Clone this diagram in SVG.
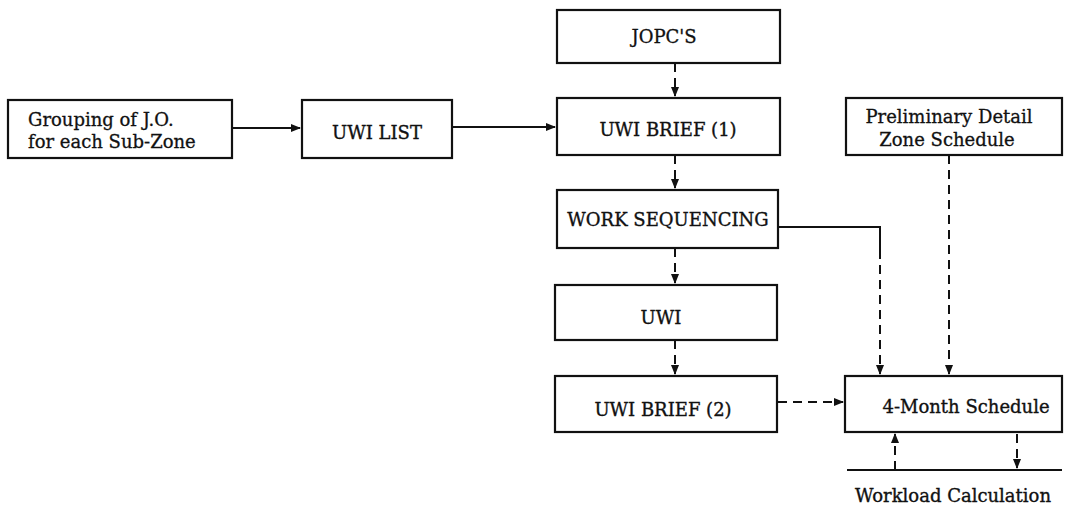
<svg xmlns="http://www.w3.org/2000/svg" width="1088" height="522" viewBox="0 0 1088 522">
<style>
.box{fill:#fff;stroke:#111;stroke-width:2.2}
.t{font-family:"DejaVu Serif","Liberation Serif",serif;font-size:18px;fill:#111;stroke:#111;stroke-width:0.35;text-anchor:middle}
.ts{font-family:"DejaVu Serif","Liberation Serif",serif;font-size:18px;fill:#111;stroke:#111;stroke-width:0.3;text-anchor:middle}
.c{fill:none;stroke:#111;stroke-width:2}
.d{fill:none;stroke:#111;stroke-width:2;stroke-dasharray:9 6}
</style>
<defs>
<marker id="ah" viewBox="0 0 10 10" refX="9" refY="5" markerWidth="5" markerHeight="5" orient="auto" markerUnits="strokeWidth">
<path d="M0,1 L10,5 L0,9 z" fill="#111"/>
</marker>
</defs>
<rect width="1088" height="522" fill="#fff"/>
<g id="connectors">
<path class="c" d="M232,128 L300,128" marker-end="url(#ah)"/>
<path class="c" d="M452,127 L555,127" marker-end="url(#ah)"/>
<path class="d" d="M675,63 L675,96" marker-end="url(#ah)"/>
<path class="d" d="M675,155 L675,188" marker-end="url(#ah)"/>
<path class="d" d="M675,248 L675,283" marker-end="url(#ah)"/>
<path class="d" d="M675,340 L675,374" marker-end="url(#ah)"/>
<path class="d" d="M778,402 L843,402" marker-end="url(#ah)"/>
<path class="c" d="M778,227 L880,227 L880,250"/>
<path class="d" d="M880,250 L880,374" marker-end="url(#ah)"/>
<path class="d" d="M949,155 L949,374" marker-end="url(#ah)"/>
<path class="d" d="M895,470 L895,434" marker-end="url(#ah)"/>
<path class="d" d="M1017,434 L1017,468" marker-end="url(#ah)"/>
<path class="c" d="M847,470 L1062,470"/>
</g>
<g id="grouping">
<rect class="box" x="8" y="100" width="224" height="58"/>
<text class="ts" x="28" y="126" style="text-anchor:start">Grouping of J.O.</text>
<text class="ts" x="28" y="148" style="text-anchor:start">for each Sub-Zone</text>
</g>
<g id="uwilist">
<rect class="box" x="302" y="100" width="150" height="58"/>
<text class="t" x="377" y="139">UWI LIST</text>
</g>
<g id="jopcs">
<rect class="box" x="557" y="10" width="223" height="53"/>
<text class="ts" x="664" y="43">JOPC'S</text>
</g>
<g id="uwibrief1">
<rect class="box" x="557" y="98" width="223" height="57"/>
<text class="t" x="668" y="136">UWI BRIEF (1)</text>
</g>
<g id="prelim">
<rect class="box" x="846" y="98" width="216" height="57"/>
<text class="ts" x="949" y="123">Preliminary Detail</text>
<text class="ts" x="947" y="146">Zone Schedule</text>
</g>
<g id="worksequencing">
<rect class="box" x="557" y="190" width="221" height="58"/>
<text class="t" x="668" y="226">WORK SEQUENCING</text>
</g>
<g id="uwi">
<rect class="box" x="555" y="285" width="222" height="55"/>
<text class="t" x="661" y="324">UWI</text>
</g>
<g id="uwibrief2">
<rect class="box" x="555" y="376" width="222" height="56"/>
<text class="t" x="663" y="416">UWI BRIEF (2)</text>
</g>
<g id="fourmonth">
<rect class="box" x="845" y="376" width="217" height="56"/>
<text class="t" x="966" y="413">4-Month Schedule</text>
</g>
<g id="workload">
<text class="t" x="953" y="502">Workload Calculation</text>
</g>
</svg>
